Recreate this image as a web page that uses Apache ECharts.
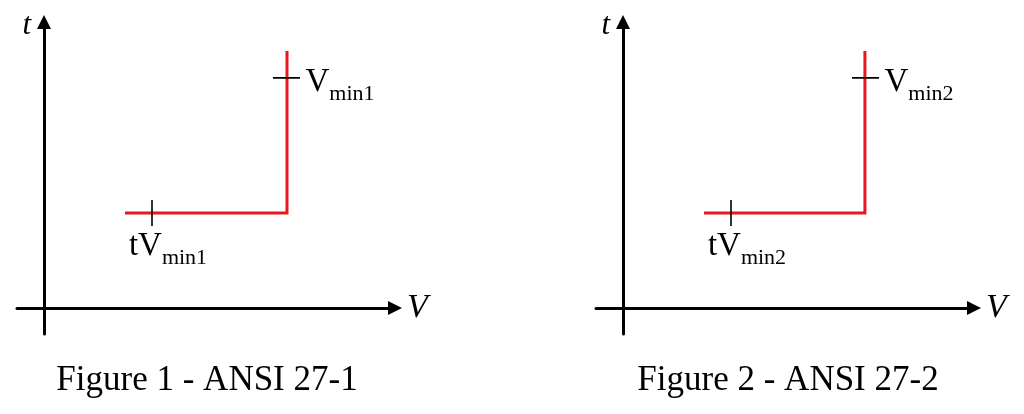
<!DOCTYPE html>
<html><head><meta charset="utf-8">
<script src="https://cdn.jsdelivr.net/npm/echarts@6/dist/echarts.min.js"></script>
<style>html,body{margin:0;padding:0;background:#fff}#c{width:1024px;height:414px}</style>
</head><body><div id="c"></div>
<script>
// Figure captions and axis names
const captions = ['Figure 1 - ANSI 27-1', 'Figure 2 - ANSI 27-2'];
const axisNameX = 'V';
const axisNameY = 't';
// Trip curves (V, t) for each figure
const curve1V = [3, 9, 9];
const curve1T = [3.65, 3.65, 9.88];
const curve2V = [3, 8.96, 8.96];
const curve2T = [3.65, 3.65, 9.88];
// Setting marks: time delay tick (vertical) and voltage threshold tick (horizontal)
const tickTimeV = [4, 4];
const tickTimeT = [3.15, 4.15];
const tickVoltV = [8.48, 9.48];
const tickVoltT = [8.85, 8.85];
// Label anchors and texts
const timeLabels = [['tV', 'min1'], ['tV', 'min2']];
const voltLabels = [['V', 'min1'], ['V', 'min2']];
const timeLabelAnchor = [4, 3.15];
const voltLabelAnchor = [9.48, 8.85];
// axis ranges
const xRange = [-1, 13];
const yRange = [-1, 11];

const SERIF = '"Liberation Serif", "DejaVu Serif", serif';
const RED = '#e8161d';
const INK = '#000';
const zip = (a, b) => a.map((v, i) => [v, b[i]]);
const rich = {
  m: { fontFamily: SERIF, fontSize: 33, color: INK, opacity: 1, lineHeight: 36 },
  s: { fontFamily: SERIF, fontSize: 22, color: INK, opacity: 1, lineHeight: 22, padding: [24, 0, 0, 0] }
};
const grids = [{ left: 17, top: 22, width: 378, height: 312 }, { left: 596, top: 22, width: 378, height: 312 }];
function axisX(i) {
  return { gridIndex: i, type: 'value', min: xRange[0], max: xRange[1],
    name: axisNameX, nameLocation: 'end', nameGap: 12,
    nameTextStyle: { fontFamily: SERIF, fontStyle: 'italic', fontSize: 34, color: INK, align: 'left', verticalAlign: 'middle' },
    axisLine: { onZero: true, symbol: ['none', 'triangle'], symbolSize: [14, 14], lineStyle: { color: '#000', width: 3 } },
    axisTick: { show: false }, axisLabel: { show: false }, splitLine: { show: false } };
}
function axisY(i) {
  return { gridIndex: i, type: 'value', min: yRange[0], max: yRange[1],
    name: axisNameY, nameLocation: 'end', nameGap: -4,
    nameTextStyle: { fontFamily: SERIF, fontStyle: 'italic', fontSize: 31, color: INK, align: 'right', verticalAlign: 'middle', padding: [0, 13, 0, 0] },
    axisLine: { onZero: true, symbol: ['none', 'triangle'], symbolSize: [14, 14], lineStyle: { color: '#000', width: 3 } },
    axisTick: { show: false }, axisLabel: { show: false }, splitLine: { show: false } };
}
const series = [];
[[curve1V, curve1T], [curve2V, curve2T]].forEach((c, i) => {
  series.push({ type: 'line', xAxisIndex: i, yAxisIndex: i, data: zip(c[0], c[1]), symbol: 'none', silent: true,
    lineStyle: { color: RED, width: 3, join: 'miter' }, z: 3 });
  series.push({ type: 'line', xAxisIndex: i, yAxisIndex: i, data: zip(tickTimeV, tickTimeT), symbol: 'none', silent: true,
    lineStyle: { color: '#000', width: 1.6 }, z: 4 });
  series.push({ type: 'line', xAxisIndex: i, yAxisIndex: i, data: zip(tickVoltV, tickVoltT), symbol: 'none', silent: true,
    lineStyle: { color: '#000', width: 1.6 }, z: 4 });
  series.push({ type: 'scatter', xAxisIndex: i, yAxisIndex: i, symbolSize: 1, itemStyle: { color: '#fff', opacity: 1 }, silent: true, z: 1,
    data: [{ value: timeLabelAnchor, label: { show: true, color: INK, opacity: 1, position: 'bottom', distance: 2, offset: [16, 0],
      formatter: '{m|' + timeLabels[i][0] + '}{s|' + timeLabels[i][1] + '}', rich } },
      { value: voltLabelAnchor, label: { show: true, color: INK, opacity: 1, position: 'right', distance: 5, offset: [0, 4],
      formatter: '{m|' + voltLabels[i][0] + '}{s|' + voltLabels[i][1] + '}', rich } }] });
});
const chart = echarts.init(document.getElementById('c'), null, { renderer: 'canvas' });
chart.setOption({
  animation: false,
  backgroundColor: '#fff',
  title: [
    { text: captions[0], left: 202, top: 358, textAlign: 'center', textStyle: { fontFamily: SERIF, fontSize: 35, fontWeight: 'normal', color: INK } },
    { text: captions[1], left: 783, top: 358, textAlign: 'center', textStyle: { fontFamily: SERIF, fontSize: 35, fontWeight: 'normal', color: INK } }
  ],
  grid: grids,
  xAxis: [axisX(0), axisX(1)],
  yAxis: [axisY(0), axisY(1)],
  series
});
</script></body></html>
